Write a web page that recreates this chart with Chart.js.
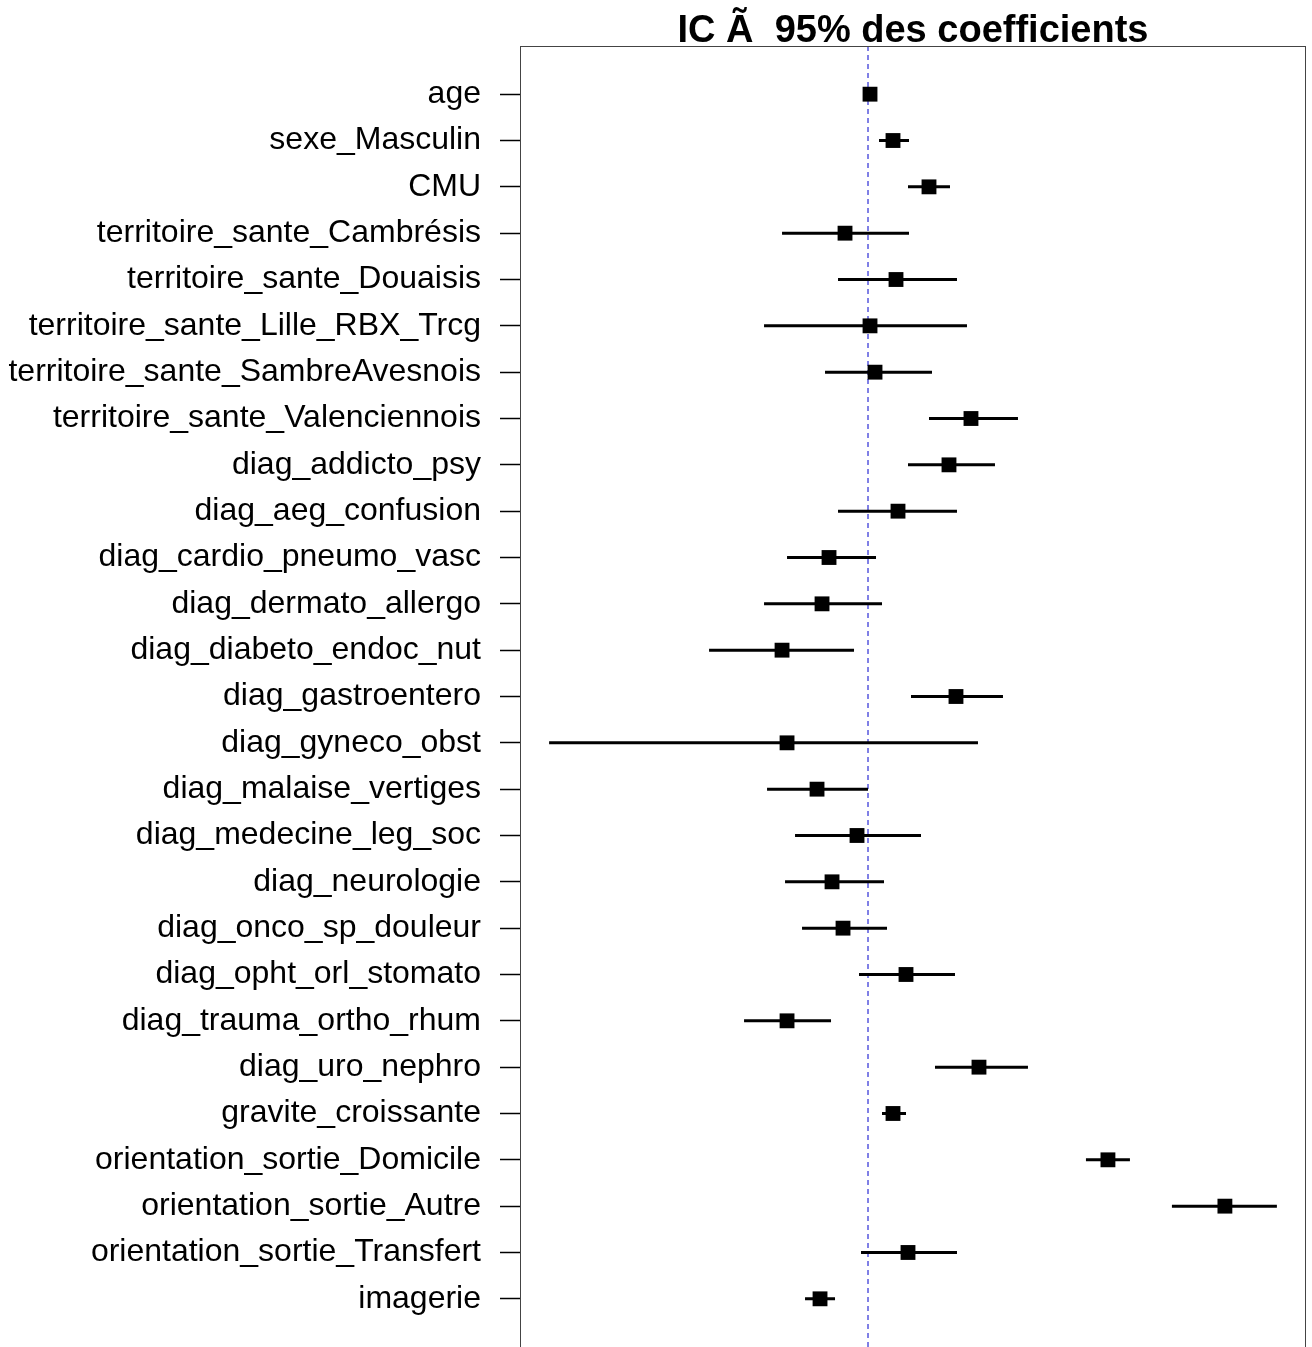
<!DOCTYPE html>
<html>
<head>
<meta charset="utf-8">
<script src="https://cdn.jsdelivr.net/npm/chart.js@4.4.1/dist/chart.umd.min.js"></script>
<style>
  html, body { margin: 0; padding: 0; background: #fff; overflow: hidden; }
  #wrap { width: 1312px; height: 1347px; }
</style>
</head>
<body>
<div id="wrap"><canvas id="chart-ic"></canvas></div>
<script>
// coefficients et bornes de l'IC a 95%
const variables = [
  'age', 'sexe_Masculin', 'CMU',
  'territoire_sante_Cambrésis', 'territoire_sante_Douaisis', 'territoire_sante_Lille_RBX_Trcg',
  'territoire_sante_SambreAvesnois', 'territoire_sante_Valenciennois',
  'diag_addicto_psy', 'diag_aeg_confusion', 'diag_cardio_pneumo_vasc', 'diag_dermato_allergo',
  'diag_diabeto_endoc_nut', 'diag_gastroentero', 'diag_gyneco_obst', 'diag_malaise_vertiges',
  'diag_medecine_leg_soc', 'diag_neurologie', 'diag_onco_sp_douleur', 'diag_opht_orl_stomato',
  'diag_trauma_ortho_rhum', 'diag_uro_nephro', 'gravite_croissante',
  'orientation_sortie_Domicile', 'orientation_sortie_Autre', 'orientation_sortie_Transfert', 'imagerie'
];
const coef = [
  0.008, 0.100, 0.244,
  -0.092, 0.112, 0.008, 0.028, 0.412,
  0.324, 0.120, -0.156, -0.184, -0.344, 0.352, -0.324, -0.204,
  -0.044, -0.144, -0.100, 0.152, -0.324, 0.444, 0.100,
  0.960, 1.428, 0.160, -0.192
];
const icBas = [
  0.000, 0.044, 0.160,
  -0.344, -0.120, -0.416, -0.172, 0.244,
  0.160, -0.120, -0.324, -0.416, -0.636, 0.172, -1.276, -0.404,
  -0.292, -0.332, -0.264, -0.036, -0.496, 0.268, 0.056,
  0.872, 1.216, -0.028, -0.252
];
const icHaut = [
  0.016, 0.164, 0.328,
  0.164, 0.356, 0.396, 0.256, 0.600,
  0.508, 0.356, 0.032, 0.056, -0.056, 0.540, 0.440, 0.000,
  0.212, 0.064, 0.076, 0.348, -0.148, 0.640, 0.152,
  1.048, 1.636, 0.356, -0.132
];

const n = variables.length;
const xmin = Math.min(...icBas), xmax = Math.max(...icHaut);
const xpad = (xmax - xmin) * 0.04;
const ypad = (n - 1) * 0.04;

const points = coef.map((c, i) => ({ x: c, y: i + 1 }));
const segments = [];
icBas.forEach((b, i) => {
  segments.push({ x: b, y: i + 1 });
  segments.push({ x: icHaut[i], y: i + 1 });
  segments.push({ x: null, y: null });
});

const boxPlugin = {
  id: 'boxPlugin',
  afterDraw(chart) {
    const a = chart.chartArea, ctx = chart.ctx;
    ctx.save();
    ctx.strokeStyle = '#444';
    ctx.lineWidth = 1;
    ctx.strokeRect(a.left + 0.5, a.top + 0.5, a.right - a.left - 1, a.bottom - a.top);
    ctx.fillStyle = '#000';
    ctx.font = 'bold 38px "Liberation Sans", Arial, sans-serif';
    ctx.textAlign = 'center';
    ctx.textBaseline = 'alphabetic';
    ctx.fillText('IC Ã\u00a0 95% des coefficients', (a.left + a.right) / 2, 42);
    ctx.restore();
  }
};

new Chart(document.getElementById('chart-ic'), {
  type: 'scatter',
  data: {
    datasets: [
      {
        data: points,
        pointStyle: 'rect',
        pointRadius: 10.5,
        backgroundColor: '#000',
        borderColor: '#000',
        borderWidth: 0,
        order: 0
      },
      {
        data: segments,
        showLine: true,
        spanGaps: false,
        pointRadius: 0,
        borderColor: '#000',
        borderWidth: 3,
        order: 1
      },
      {
        data: [{ x: 0, y: 1 - ypad }, { x: 0, y: n + ypad }],
        showLine: true,
        pointRadius: 0,
        borderColor: '#0000cc',
        borderWidth: 1,
        borderDash: [5, 4],
        order: 2
      }
    ]
  },
  options: {
    responsive: true,
    maintainAspectRatio: false,
    animation: false,
    layout: { autoPadding: false, padding: { top: 46, right: 6, bottom: 0, left: 0 } },
    plugins: { legend: { display: false }, tooltip: { enabled: false }, title: { display: false } },
    scales: {
      x: {
        type: 'linear',
        min: xmin - xpad,
        max: xmax + xpad,
        display: false
      },
      y: {
        type: 'linear',
        reverse: true,
        min: 1 - ypad,
        max: n + ypad,
        afterBuildTicks: (scale) => {
          scale.ticks = variables.map((v, i) => ({ value: i + 1 }));
        },
        afterFit: (scale) => {
          scale.width = 520;
          scale.paddingTop = 0;
          scale.paddingBottom = 0;
        },
        grid: { drawOnChartArea: false, tickLength: 20, tickColor: '#000', tickWidth: 1.5 },
        border: { display: false },
        ticks: {
          autoSkip: false,
          color: '#000',
          padding: 19,
          font: { family: '"Liberation Sans", Arial, sans-serif', size: 32 },
          callback: (v) => variables[v - 1]
        }
      }
    }
  },
  plugins: [boxPlugin]
});
</script>
</body>
</html>
